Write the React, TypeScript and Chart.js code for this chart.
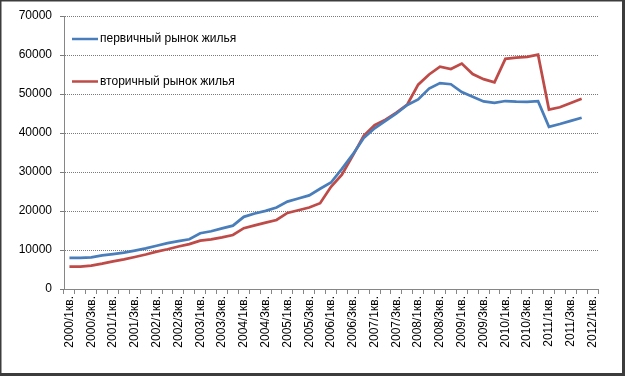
import React, { useEffect, useRef } from "react";
import { Chart, registerables } from "chart.js";

Chart.register(...registerables);

const quarters: string[] = [
  "2000/1кв.", "2000/2кв.", "2000/3кв.", "2000/4кв.",
  "2001/1кв.", "2001/2кв.", "2001/3кв.", "2001/4кв.",
  "2002/1кв.", "2002/2кв.", "2002/3кв.", "2002/4кв.",
  "2003/1кв.", "2003/2кв.", "2003/3кв.", "2003/4кв.",
  "2004/1кв.", "2004/2кв.", "2004/3кв.", "2004/4кв.",
  "2005/1кв.", "2005/2кв.", "2005/3кв.", "2005/4кв.",
  "2006/1кв.", "2006/2кв.", "2006/3кв.", "2006/4кв.",
  "2007/1кв.", "2007/2кв.", "2007/3кв.", "2007/4кв.",
  "2008/1кв.", "2008/2кв.", "2008/3кв.", "2008/4кв.",
  "2009/1кв.", "2009/2кв.", "2009/3кв.", "2009/4кв.",
  "2010/1кв.", "2010/2кв.", "2010/3кв.", "2010/4кв.",
  "2011/1кв.", "2011/2кв.", "2011/3кв.", "2011/4кв.",
  "2012/1кв.",
];

const primaryLabel = "первичный рынок жилья";
const secondaryLabel = "вторичный рынок жилья";

const primaryMarket: number[] = [
  7950, 7950, 8100, 8600, 8950, 9350, 9850, 10400,
  11100, 11750, 12300, 12750, 14300, 14800, 15550, 16250,
  18500, 19350, 20050, 20900, 22400, 23200, 24000, 25700,
  27300, 30800, 34500, 38700, 41200, 43100, 45000, 47200,
  48600, 51400, 52800, 52500, 50500, 49300, 48100, 47700,
  48200, 48050, 48000, 48150, 41600, 42300, 43100, 43900,
];

const secondaryMarket: number[] = [
  5750, 5750, 6000, 6500, 7100, 7600, 8200, 8850,
  9600, 10200, 10900, 11500, 12400, 12750, 13250, 13850,
  15600, 16300, 17000, 17700, 19500, 20200, 20900, 22000,
  26200, 29300, 34200, 39300, 42000, 43400, 45200, 47300,
  52400, 55000, 57000, 56400, 57800, 55100, 53800, 53000,
  59000, 59300, 59500, 60100, 46000, 46600, 47700, 48800,
];

const yMax = 70000;
const yStep = 10000;

const FONT = "'Liberation Sans', Arial, sans-serif";

const framePlugin = {
  id: "frame",
  beforeDraw(chart: any) {
    const { ctx, width, height } = chart;
    ctx.save();
    ctx.fillStyle = "#ffffff";
    ctx.fillRect(0, 0, width, height);
    ctx.restore();
  },
  afterDraw(chart: any) {
    const { ctx } = chart;
    ctx.save();
    ctx.fillStyle = "#3c3c3c";
    ctx.fillRect(0, 0, 1.5, 376);
    ctx.fillRect(0, 0, 625, 1.5);
    ctx.fillRect(622, 0, 3, 376);
    ctx.fillRect(0, 373, 625, 3);
    ctx.restore();
  },
};

const legendPlugin = {
  id: "insideLegend",
  afterDatasetsDraw(chart: any) {
    const { ctx, chartArea } = chart;
    ctx.save();
    chart.data.datasets.forEach((ds: any, i: number) => {
      const y = chartArea.top + 23 + i * 42.5;
      const x0 = chartArea.left + 8;
      ctx.strokeStyle = ds.borderColor;
      ctx.lineWidth = 2.5;
      ctx.beginPath();
      ctx.moveTo(x0, y);
      ctx.lineTo(x0 + 26, y);
      ctx.stroke();
      ctx.fillStyle = "#000000";
      ctx.font = `12px ${FONT}`;
      ctx.textBaseline = "middle";
      ctx.textAlign = "left";
      ctx.fillText(ds.label, x0 + 28, y);
    });
    ctx.restore();
  },
};

export default function App() {
  const canvasRef = useRef<HTMLCanvasElement | null>(null);

  useEffect(() => {
    document.body.style.margin = "0";
    const canvas = canvasRef.current;
    if (!canvas) return;
    const chart = new Chart(canvas, {
      type: "line",
      data: {
        labels: quarters,
        datasets: [
          {
            label: primaryLabel,
            data: primaryMarket,
            borderColor: "#4a7ebb",
            backgroundColor: "#4a7ebb",
            borderWidth: 2.75,
            pointRadius: 0,
            tension: 0,
            fill: false,
          },
          {
            label: secondaryLabel,
            data: secondaryMarket,
            borderColor: "#be4b48",
            backgroundColor: "#be4b48",
            borderWidth: 2.75,
            pointRadius: 0,
            tension: 0,
            fill: false,
          },
        ],
      },
      options: {
        responsive: false,
        animation: false,
        devicePixelRatio: 1,
        layout: { padding: { top: 16, right: 27, left: 0, bottom: 0 } },
        plugins: {
          legend: { display: false },
          tooltip: { enabled: false },
        },
        scales: {
          x: {
            type: "category",
            offset: true,
            afterFit(scale: any) {
              scale.height = 89;
            },
            grid: {
              offset: true,
              drawOnChartArea: false,
              drawTicks: true,
              tickLength: 5,
              color: "#868686",
              tickColor: "#868686",
            },
            border: { display: true, color: "#868686", width: 1 },
            ticks: {
              autoSkip: false,
              maxRotation: 90,
              minRotation: 90,
              padding: 2,
              color: "#000000",
              font: { family: FONT, size: 12 },
              callback(this: any, value: any, index: number) {
                return index % 2 === 0 ? this.getLabelForValue(value) : "";
              },
            },
          },
          y: {
            min: 0,
            max: yMax,
            afterFit(scale: any) {
              scale.width = 64;
            },
            grid: {
              color: "#7a7a7a",
              tickColor: "#7a7a7a",
              tickLength: 4,
              lineWidth: 1,
            },
            border: { display: true, color: "#868686", width: 1, dash: [1, 1] },
            ticks: {
              stepSize: yStep,
              padding: 8,
              color: "#000000",
              font: { family: FONT, size: 12 },
              callback(value: any) {
                return String(value);
              },
            },
          },
        },
      },
      plugins: [framePlugin, legendPlugin],
    });
    return () => chart.destroy();
  }, []);

  return (
    <canvas
      ref={canvasRef}
      width={625}
      height={378}
      style={{ display: "block", width: 625, height: 378 }}
    />
  );
}
